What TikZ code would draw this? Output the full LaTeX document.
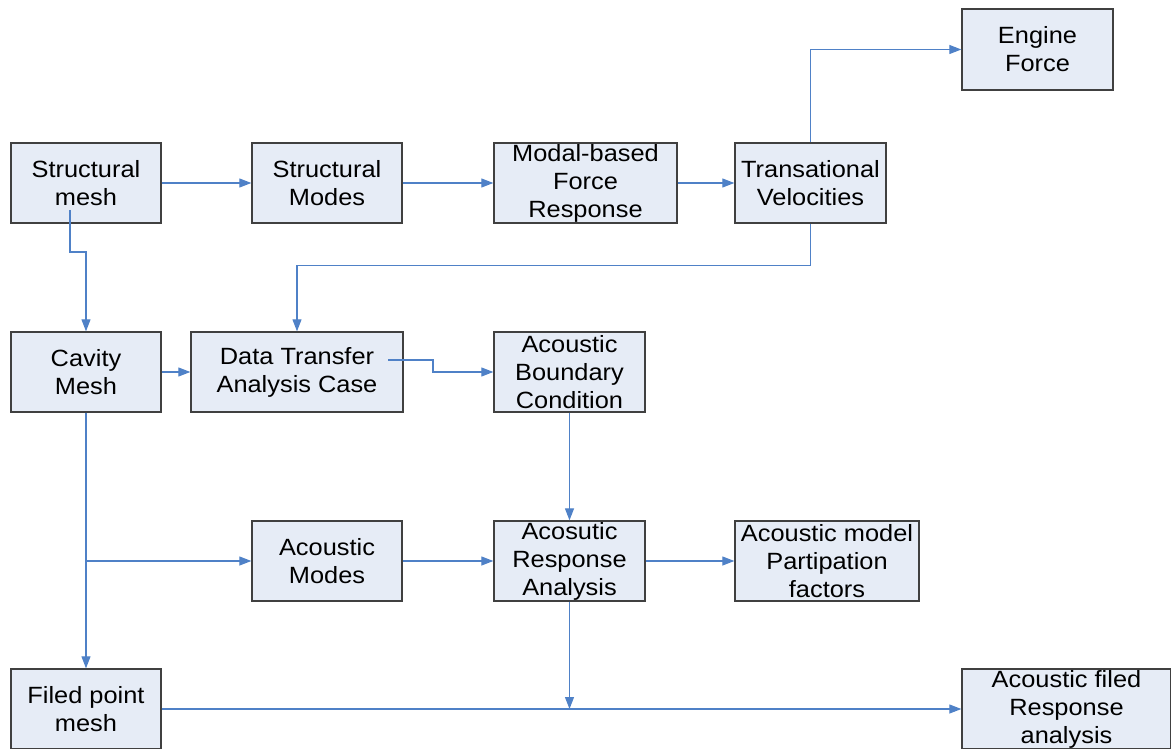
\documentclass[tikz,border=0pt]{standalone}
\usepackage{fontspec}
\setmainfont[FakeStretch=1.08]{Liberation Sans}
\usetikzlibrary{arrows.meta,calc}
\definecolor{boxfill}{HTML}{E6ECF6}
\definecolor{boxline}{HTML}{404040}
\definecolor{conn}{HTML}{4F81C7}
\begin{document}
\begin{tikzpicture}[x=1pt,y=-1pt,
  box/.style={draw=boxline,fill=boxfill,line width=1.3pt,inner sep=0pt,align=center,
    font=\fontsize{23.5}{28}\selectfont,minimum height=80pt},
  conn/.style={draw=conn,line width=1.1pt,-{Triangle[length=12pt,width=9pt]}},
  plain/.style={draw=conn,line width=1.1pt}]
\useasboundingbox (0,0) rectangle (1171,749);
\node[box,minimum width=150pt] (smesh) at (86,183) {Structural\\mesh};
\node[box,minimum width=150pt] (smodes) at (327,183) {Structural\\Modes};
\node[box,minimum width=183pt] (modal) at (585.5,183) {Modal-based\\Force\\Response};
\node[box,minimum width=151pt] (trans) at (810.5,183) {Transational\\Velocities};
\node[box,minimum width=151pt,minimum height=81pt] (engine) at (1037.5,49.5) {Engine\\Force};
\node[box,minimum width=150pt] (cavity) at (86,372) {Cavity\\Mesh};
\node[box,minimum width=212pt] (dtac) at (297,372) {Data Transfer\\Analysis Case};
\node[box,minimum width=151pt] (abc) at (569.5,372) {Acoustic\\Boundary\\Condition};
\node[box,minimum width=150pt] (amodes) at (327,561) {Acoustic\\Modes};
\node[box,minimum width=151pt] (aresp) at (569.5,561) {Acosutic\\Response\\Analysis};
\node[box,minimum width=184pt] (apart) at (827,561) {Acoustic model\\Partipation\\factors};
\node[box,minimum width=150pt] (fpm) at (86,709) {Filed point\\mesh};
\node[box,minimum width=209pt] (afr) at (1066.5,709) {Acoustic filed\\Response\\analysis};
\coordinate (s1) at (70,210);
\coordinate (d1) at (388,360);
\coordinate (b1) at (86,561);
\draw[conn] (smesh.east) -- (smodes.west);
\draw[conn] (smodes.east) -- (modal.west);
\draw[conn] (modal.east) -- (trans.west);
\draw[conn] (trans.north) |- (engine.west);
\draw[conn] (trans.south) -- ++(0,42) -| (dtac.north);
\draw[conn] (s1) -- (70,252) -| (cavity.north);
\draw[conn] (cavity.east) -- (dtac.west);
\draw[conn] (d1) -- (433,360) |- (abc.west);
\draw[conn] (abc.south) -- (aresp.north);
\draw[conn] (cavity.south) -- (fpm.north);
\draw[conn] (b1) -- (amodes.west);
\draw[conn] (amodes.east) -- (aresp.west);
\draw[conn] (aresp.east) -- (apart.west);
\draw[conn] (aresp.south) -- (aresp.south |- fpm.east);
\draw[conn] (fpm.east) -- (afr.west);
\end{tikzpicture}
\end{document}
